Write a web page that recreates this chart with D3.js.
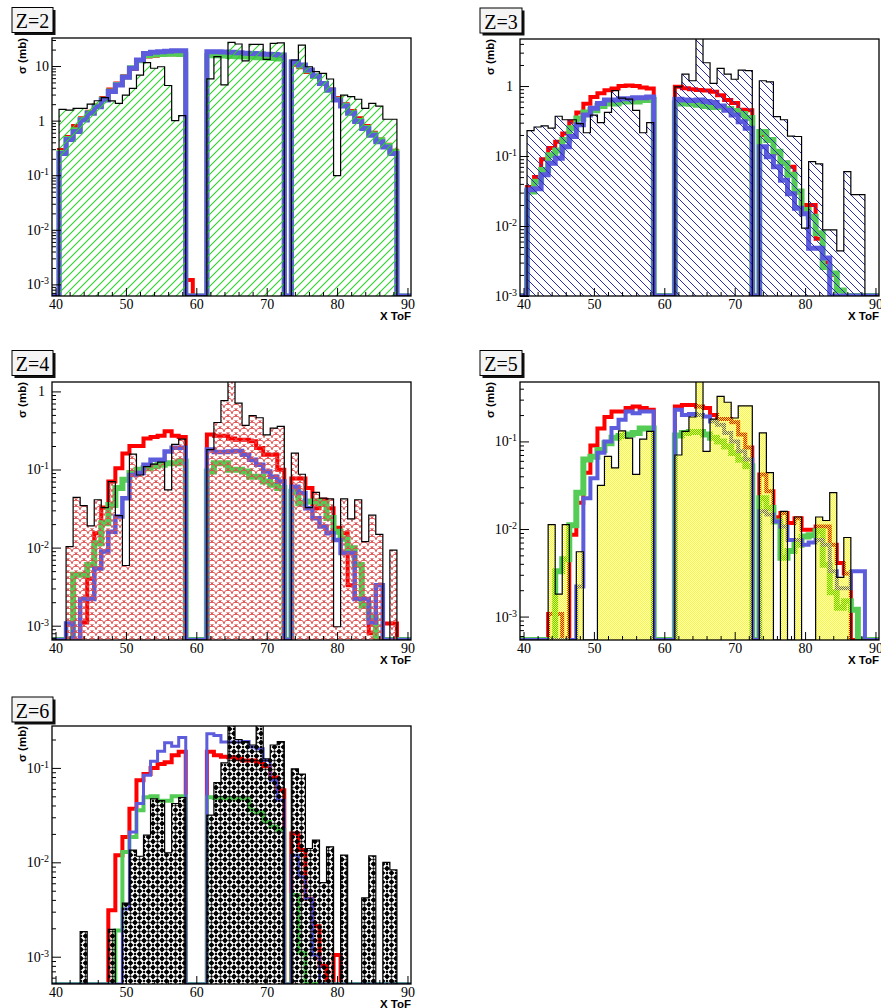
<!DOCTYPE html>
<html><head><meta charset="utf-8">
<script src="https://cdn.jsdelivr.net/npm/d3@7"></script>
<style>body{margin:0;background:#fff} svg{display:block}</style>
</head><body>
<svg id="c" width="881" height="1008"></svg>
<script>
// ---------------- data (bins centred on 40..90) ----------------
const binCenters = d3.range(40, 91);
const xTicks = [40, 50, 60, 70, 80, 90];
const titles = ["Z=2", "Z=3", "Z=4", "Z=5", "Z=6"];
const xLabel = "X ToF";
const yLabel = "σ (mb)";

const z2Data = [0,1.61,1.55,1.68,1.68,2.0,2.31,2.63,2.3,2.07,
 2.94,3.9,6.8,11.5,9.1,9.7,4.4,1.0,1.23,0,
 0,0,5.8,14.8,4.5,27.2,25.3,12.4,25,25,
 13.2,26,26.5,0,12.9,24.2,9.7,7.9,7.35,5.78,
 0.098,2.94,2.74,2.46,1.68,2.07,1.85,1.06,1.06,0,0];
const z2Red = [0,0.29,0.5,0.8,1.1,1.45,1.9,2.6,3.7,4.8,
 6.5,8.8,12.5,15,15.5,16,16.5,16.5,16.5,0.0012,
 0,0,16,16,16,15.8,15.5,15.5,15.3,15,
 15,15,14.8,0,10.5,9.5,7.8,6.3,4.9,3.7,
 2.6,2.0,1.5,1.1,0.8,0.6,0.45,0.36,0.28,0,0];
const z2Green = [0,0.26,0.47,0.68,1.05,1.4,1.85,2.45,3.5,4.6,
 6.3,9.3,12.5,15.5,16,16.3,16.5,16.5,16.3,0,
 0,0,15.5,15.5,15.2,15,14.8,14.6,14.4,14.2,
 14,13.8,13.5,0,11.5,10,8.2,6.4,4.8,3.6,
 2.45,1.9,1.4,1.0,0.75,0.57,0.44,0.35,0.27,0,0];
const z2Blue = [0,0.25,0.45,0.63,1.03,1.36,1.8,2.38,3.4,4.5,
 6.2,9.1,12.9,17,17.8,18.3,18.7,19,19,0,
 0,0,18.3,18.3,18,17.8,17.5,17.2,17,16.8,
 16.5,16.2,15.9,0,12,10.4,8.45,6.6,4.8,3.63,
 2.38,1.85,1.36,0.96,0.72,0.54,0.41,0.33,0.25,0,0];

const z3Data = [0,0.23,0.26,0.27,0.25,0.37,0.33,0.33,0.29,0.215,
 0.385,0.3,0.42,0.86,0.67,0.65,0.45,0.215,0.3,0,
 0,0,0.97,1.48,1.19,5.5,2.15,1.09,1.79,1.48,
 1.25,1.69,1.66,0,1.19,1.15,0.365,0.33,0.193,0.19,
 0.0093,0.083,0.077,0.0088,0.0088,0.0044,0.06,0.028,0.028,0,0];
const z3Red = [0,0.036,0.05,0.09,0.13,0.16,0.21,0.31,0.42,0.56,
 0.7,0.79,0.87,0.92,1.0,1.02,1.0,0.95,0.92,0,
 0,0,0.98,0.93,0.9,0.88,0.86,0.83,0.74,0.63,
 0.57,0.46,0.45,0,0.2,0.17,0.11,0.08,0.07,0.03,
 0.02,0.02,0.0066,0.003,0.002,0.0012,0,0,0,0,0];
const z3Green = [0,0.031,0.043,0.063,0.103,0.12,0.17,0.25,0.345,0.42,
 0.45,0.52,0.565,0.565,0.6,0.6,0.6,0.63,0.63,0,
 0,0,0.565,0.565,0.56,0.54,0.52,0.5,0.5,0.47,
 0.44,0.4,0.35,0,0.22,0.17,0.115,0.079,0.054,0.031,
 0.017,0.0136,0.0079,0.0026,0.0021,0.0012,0,0,0,0,0];
const z3Blue = [0,0.033,0.034,0.054,0.079,0.093,0.136,0.19,0.28,0.385,
 0.48,0.565,0.63,0.63,0.66,0.66,0.68,0.68,0.7,0,
 0,0,0.65,0.63,0.62,0.63,0.6,0.58,0.52,0.45,
 0.385,0.31,0.25,0,0.136,0.098,0.07,0.045,0.029,0.018,
 0.015,0.0048,0.0048,0.0035,0,0,0,0,0,0,0];

const z4Data = [0,0,0.0103,0.044,0.0345,0.019,0.041,0.0326,0.07,0.0257,
 0.0059,0.157,0.085,0.109,0.117,0.124,0.055,0.21,0.245,0,
 0,0,0.18,0.4,0.76,1.5,0.71,0.367,0.49,0.46,
 0.278,0.339,0.356,0,0.162,0.087,0.0326,0.051,0.043,0.042,
 0.00097,0.042,0.0233,0.041,0.0119,0.026,0.0148,0,0.0093,0,0];
const z4Red = [0,0,0,0,0.0011,0.004,0.0153,0.0326,0.07,0.104,
 0.16,0.2,0.2,0.25,0.26,0.27,0.31,0.27,0.26,0,
 0,0,0.28,0.27,0.27,0.25,0.24,0.24,0.23,0.188,
 0.155,0.155,0.099,0,0.077,0.077,0.058,0.032,0.041,0.032,
 0.018,0.0153,0.0033,0.0022,0.0022,0.0008,0,0.00107,0.00107,0,0];
const z4Green = [0,0,0,0.0045,0.0045,0.006,0.0114,0.0205,0.035,0.058,
 0.074,0.09,0.099,0.104,0.11,0.115,0.12,0.12,0.127,0,
 0,0,0.094,0.12,0.12,0.099,0.099,0.094,0.081,0.081,
 0.07,0.064,0.058,0,0.052,0.037,0.039,0.039,0.037,0.024,
 0.016,0.013,0.0098,0.006,0.0018,0.0013,0,0,0,0,0];
const z4Blue = [0,0,0.00107,0,0.0022,0.0022,0.0054,0.0089,0.016,0.025,
 0.043,0.085,0.09,0.115,0.133,0.133,0.17,0.19,0.19,0,
 0,0,0.18,0.167,0.167,0.17,0.173,0.155,0.133,0.115,
 0.094,0.081,0.07,0,0.06,0.05,0.032,0.0238,0.0186,0.0153,
 0.0125,0.0085,0.0085,0.0022,0.0022,0.0011,0.0033,0,0,0,0];

const z5Data = [0,0,0,0,0.0112,0.0018,0.0112,0,0.0055,0,
 0,0.0315,0.0674,0.05,0.132,0.109,0.042,0.106,0.13,0,
 0,0,0.07,0.13,0.19,0.6,0.077,0.18,0.327,0.28,
 0.185,0.255,0.255,0,0.125,0.044,0,0.0159,0,0.0137,
 0,0,0.0137,0.0125,0.026,0.0028,0.008,0,0,0,0];
const z5Red = [0,0,0,0,0.00107,0.00107,0,0.0086,0.02,0.044,
 0.09,0.14,0.19,0.22,0.22,0.24,0.25,0.24,0.23,0,
 0,0,0.25,0.26,0.26,0.25,0.24,0.2,0.18,0.18,
 0.165,0.12,0.085,0,0.042,0.0269,0.0136,0.0152,0.0117,0.0133,
 0.0098,0.0098,0.0107,0.0107,0.0066,0.0041,0.0031,0,0,0,0];
const z5Green = [0,0,0,0,0,0.0033,0.0045,0.011,0.026,0.062,
 0.067,0.08,0.095,0.11,0.115,0.12,0.125,0.14,0.14,0,
 0,0,0.117,0.125,0.128,0.128,0.12,0.11,0.1,0.0876,
 0.0736,0.0618,0.0519,0,0.0225,0.0174,0.0122,0.0047,0.0056,0.0066,
 0.0082,0.0085,0.0094,0.0039,0.0019,0.00126,0.0015,0.0012,0,0,0];
const z5Blue = [0,0,0,0,0,0,0,0,0.0022,0.0225,
 0.038,0.074,0.1,0.142,0.177,0.22,0.21,0.22,0.22,0,
 0,0,0.23,0.2,0.205,0.2,0.193,0.169,0.155,0.125,
 0.1,0.077,0.062,0,0.0159,0.0146,0.0122,0.0107,0.0075,0.0075,
 0.0066,0.007,0.0075,0.0066,0.0033,0.0021,0.0021,0.0033,0.0033,0,0];

const z6Data = [0,0,0,0,0.00184,0,0,0,0.00195,0,
 0.0037,0.0135,0.0116,0.0194,0.047,0.045,0.0126,0.042,0.0486,0,
 0,0,0.0316,0.07,0.113,0.35,0.2,0.19,0.175,0.35,
 0.125,0.175,0.19,0,0.098,0.086,0.014,0.0172,0.0061,0.0146,
 0,0.0119,0,0,0.0042,0.0117,0,0.01,0.0083,0,0];
const z6Red = [0,0,0,0,0,0,0,0,0.0031,0.0119,
 0.0186,0.037,0.074,0.086,0.1,0.11,0.115,0.136,0.148,0,
 0,0,0.148,0.136,0.131,0.13,0.125,0.12,0.12,0.115,
 0.104,0.079,0.058,0,0.0202,0.0135,0.0041,0.0021,0.0008,0,
 0.00104,0,0,0,0,0,0,0,0,0,0];
const z6Green = [0,0,0,0,0,0,0,0,0,0.0019,
 0.0129,0.0186,0.0356,0.049,0.05,0.045,0.045,0.05,0.05,0,
 0,0,0.049,0.048,0.048,0.047,0.047,0.047,0.0356,0.034,
 0.0267,0.0238,0.022,0,0.0045,0.0011,0,0,0,0,
 0,0,0,0,0,0,0,0,0,0,0];
const z6Blue = [0,0,0,0,0,0,0,0,0,0,
 0.0032,0.021,0.042,0.0836,0.118,0.15,0.185,0.17,0.21,0,
 0,0,0.23,0.22,0.188,0.188,0.188,0.19,0.167,0.16,
 0.12,0.074,0.0455,0,0.0119,0.007,0.0041,0.00104,0,0,
 0,0,0,0,0,0,0,0,0,0,0];

// ---------------- layout / style ----------------
const W = 359;
const panels = [
  {title: titles[0], data: z2Data, red: z2Red, green: z2Green, blue: z2Blue,
   ymin: 6.13e-4, ymax: 32.6, left: 52, top: 38, bottom: 296, pat: "hatchGreen",
   box: [12, 7.5, 41, 25], lw: [4, 5, 5]},
  {title: titles[1], data: z3Data, red: z3Red, green: z3Green, blue: z3Blue,
   ymin: 1e-3, ymax: 4.7, left: 520, top: 39, bottom: 296, pat: "hatchBlue",
   box: [480, 8, 42, 25], lw: [4, 6, 5]},
  {title: titles[2], data: z4Data, red: z4Red, green: z4Green, blue: z4Blue,
   ymin: 6.56e-4, ymax: 1.32, left: 52, top: 382, bottom: 640, pat: "scalesRed",
   box: [12, 350.5, 41, 25], lw: [4, 6, 4.5]},
  {title: titles[3], data: z5Data, red: z5Red, green: z5Green, blue: z5Blue,
   ymin: 5.4e-4, ymax: 0.477, left: 520, top: 382, bottom: 640, pat: "dotsYellow",
   box: [480, 350.5, 42, 25], lw: [4, 6, 4]},
  {title: titles[4], data: z6Data, red: z6Red, green: z6Green, blue: z6Blue,
   ymin: 5.14e-4, ymax: 0.278, left: 52, top: 726, bottom: 984, pat: "crossBlack",
   box: [12, 697, 41, 25], lw: [4, 4, 3]}
];
const colRed = "#ff0000", colGreen = "#55cc55", colBlue = "#5c5cdc";
const serif = "'Liberation Serif','Times New Roman',serif";
const sans = "'Liberation Sans',Arial,Helvetica,sans-serif";

const svg = d3.select("#c");
svg.append("rect").attr("width", 881).attr("height", 1008).attr("fill", "#fff");
const defs = svg.append("defs");

// patterns
{
  const p0 = defs.append("pattern").attr("id", "hatchGreen").attr("patternUnits", "userSpaceOnUse")
    .attr("width", 8).attr("height", 8);
  p0.append("path").attr("d", "M-1,1L1,-1M0,8L8,0M7,9L9,7").attr("fill", "none")
    .attr("stroke", "rgb(40,210,40)").attr("stroke-width", 1.1);
  const p1 = defs.append("pattern").attr("id", "hatchBlue").attr("patternUnits", "userSpaceOnUse")
    .attr("width", 8).attr("height", 8);
  p1.append("path").attr("d", "M-1,7L1,9M0,0L8,8M7,-1L9,1").attr("fill", "none")
    .attr("stroke", "#2a2ab4").attr("stroke-width", 1);
  const p2 = defs.append("pattern").attr("id", "scalesRed").attr("patternUnits", "userSpaceOnUse")
    .attr("width", 8).attr("height", 6);
  p2.append("path").attr("d", "M0,6A4,4 0 0 1 8,6M-4,3A4,4 0 0 1 4,3M4,3A4,4 0 0 1 12,3M0,0A4,4 0 0 1 8,0")
    .attr("fill", "none").attr("stroke", "#e04848").attr("stroke-width", 0.9);
  const p3 = defs.append("pattern").attr("id", "dotsYellow").attr("patternUnits", "userSpaceOnUse")
    .attr("width", 2).attr("height", 2);
  p3.append("rect").attr("x", 0).attr("y", 0).attr("width", 1).attr("height", 1).attr("fill", "#ffff00");
  p3.append("rect").attr("x", 1).attr("y", 1).attr("width", 1).attr("height", 1).attr("fill", "#ffff00");
  const p4 = defs.append("pattern").attr("id", "crossBlack").attr("patternUnits", "userSpaceOnUse")
    .attr("width", 9).attr("height", 9);
  p4.append("path").attr("d",
    "M1.5,0L7.5,0L4.5,3Z M1.5,9L7.5,9L4.5,6Z M0,1.5L0,7.5L3,4.5Z M9,1.5L9,7.5L6,4.5Z")
    .attr("fill", "#000");
  p4.append("circle").attr("cx", 4.5).attr("cy", 4.5).attr("r", 1.2).attr("fill", "#000");
  [[0,0],[9,0],[0,9],[9,9]].forEach(c => p4.append("circle").attr("cx", c[0]).attr("cy", c[1]).attr("r", 1.2).attr("fill", "#000"));
}

panels.forEach((p, i) => {
  const H = p.bottom - p.top;
  const x = d3.scaleLinear().domain([39.5, 90.5]).range([p.left, p.left + W]);
  const y = d3.scaleLog().domain([p.ymin, p.ymax]).range([p.bottom, p.top]);
  const g = svg.append("g");
  const clipId = "clip" + i;
  defs.append("clipPath").attr("id", clipId).append("rect")
    .attr("x", p.left).attr("y", p.top).attr("width", W).attr("height", H);

  const pts = vals => {
    const a = vals.map((v, k) => [binCenters[k] - 0.5, v > p.ymin ? v : p.ymin]);
    a.push([binCenters[binCenters.length - 1] + 0.5, a[a.length - 1][1]]);
    return a;
  };
  const line = d3.line().x(d => x(d[0])).y(d => y(d[1])).curve(d3.curveStepAfter);
  const area = d3.area().x(d => x(d[0])).y0(y(p.ymin)).y1(d => y(d[1])).curve(d3.curveStepAfter);

  const plot = g.append("g").attr("clip-path", `url(#${clipId})`);
  [[p.red, colRed, p.lw[0]], [p.green, colGreen, p.lw[1]], [p.blue, colBlue, p.lw[2]]].forEach(s => {
    plot.append("path").attr("d", line(pts(s[0]))).attr("fill", "none")
      .attr("stroke", s[1]).attr("stroke-width", s[2]).attr("stroke-linejoin", "miter");
  });
  plot.append("path").attr("d", area(pts(p.data))).attr("fill", `url(#${p.pat})`).attr("stroke", "none");
  plot.append("path").attr("d", line(pts(p.data))).attr("fill", "none")
    .attr("stroke", "#000").attr("stroke-width", 1.2);

  // frame
  g.append("rect").attr("x", p.left).attr("y", p.top).attr("width", W).attr("height", H)
    .attr("fill", "none").attr("stroke", "#000").attr("stroke-width", 1.3);

  // y axis (log)
  const lo = Math.floor(Math.log10(p.ymin)), hi = Math.ceil(Math.log10(p.ymax));
  const majors = [], minors = [];
  for (let e = lo; e <= hi; e++) {
    const d = Math.pow(10, e);
    if (d >= p.ymin * 0.999 && d <= p.ymax) majors.push(d);
    for (let k = 2; k <= 9; k++) { const v = k * d; if (v >= p.ymin && v <= p.ymax) minors.push(v); }
  }
  g.append("g").attr("transform", `translate(${p.left},0)`)
    .call(d3.axisLeft(y).tickValues(minors).tickSizeInner(-4).tickSizeOuter(0).tickFormat(() => ""))
    .call(s => s.select(".domain").remove());
  const ya = g.append("g").attr("transform", `translate(${p.left},0)`)
    .call(d3.axisLeft(y).tickValues(majors).tickSizeInner(-9).tickSizeOuter(0).tickPadding(3)
      .tickFormat(d => d >= 1 ? String(Math.round(d)) : "10"))
    .call(s => s.select(".domain").remove());
  ya.attr("font-family", serif).attr("font-size", 14);
  ya.selectAll(".tick text").each(function (d) {
    const e = Math.round(Math.log10(d));
    const t = d3.select(this);
    if (e < 0) {
      t.append("tspan").attr("dy", "-0.5em").attr("font-size", 10).text("-" + Math.abs(e));
    } else if (e === 0) {
      t.attr("x", -7);
    }
  });

  // x axis
  const xMinor = d3.range(40, 91, 2).filter(v => v % 10 !== 0);
  g.append("g").attr("transform", `translate(0,${p.bottom})`)
    .call(d3.axisBottom(x).tickValues(xMinor).tickSizeInner(-4).tickSizeOuter(0).tickFormat(() => ""))
    .call(s => s.select(".domain").remove());
  const xa = g.append("g").attr("transform", `translate(0,${p.bottom})`)
    .call(d3.axisBottom(x).tickValues(xTicks).tickSizeInner(-8).tickSizeOuter(0).tickPadding(3).tickFormat(d => d))
    .call(s => s.select(".domain").remove());
  xa.attr("font-family", serif).attr("font-size", 14);
  g.selectAll(".tick line").attr("stroke", "#000");

  // axis titles
  g.append("text").attr("x", p.left + W).attr("y", p.bottom + 24).attr("text-anchor", "end")
    .attr("font-family", sans).attr("font-weight", "bold").attr("font-size", 11.5).text(xLabel);
  g.append("text").attr("transform", `translate(${p.left - 26},${p.top}) rotate(-90)`)
    .attr("text-anchor", "end").attr("font-family", sans).attr("font-weight", "bold")
    .attr("font-size", 11.5).text(yLabel);

  // title box
  const [bx, by, bw, bh] = p.box;
  g.append("rect").attr("x", bx + 2.5).attr("y", by + 2.5).attr("width", bw).attr("height", bh).attr("fill", "#111");
  g.append("rect").attr("x", bx).attr("y", by).attr("width", bw).attr("height", bh)
    .attr("fill", "#f4f4f4").attr("stroke", "#000").attr("stroke-width", 1);
  g.append("text").attr("x", bx + bw / 2).attr("y", by + 20.5).attr("text-anchor", "middle")
    .attr("font-family", serif).attr("font-size", 20).text(p.title);
});
</script>
</body></html>
